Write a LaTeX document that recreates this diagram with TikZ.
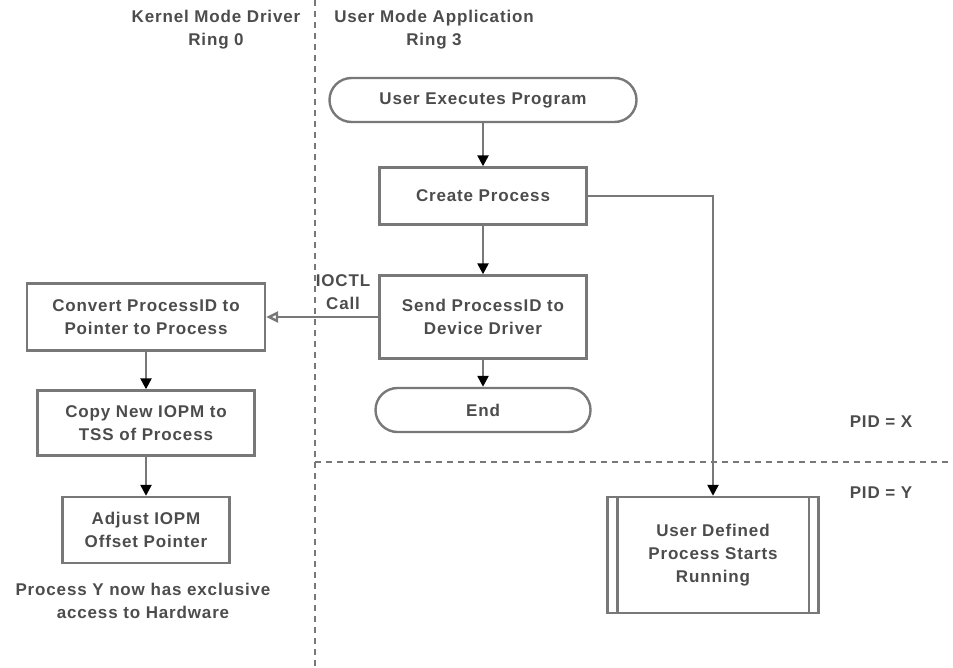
\documentclass[tikz,border=0pt]{standalone}
\usepackage{fontspec}
\newfontfamily\diagfont{Liberation Sans}[LetterSpace=5]
\usetikzlibrary{arrows.meta}

\definecolor{linegray}{gray}{0.47}
\definecolor{textgray}{gray}{0.3}

\tikzset{
  every node/.style={font=\diagfont\bfseries\fontsize{17}{23}\selectfont, text=textgray, align=center},
  procbox/.style={draw=linegray, line width=2.4pt, rectangle, inner sep=0pt},
  termbox/.style={draw=linegray, line width=2.4pt, rectangle, rounded corners=22pt, inner sep=0pt},
  flow/.style={draw=linegray, line width=2.4pt, -{Triangle[length=11pt, width=11pt, color=black]}},
  ioctl/.style={draw=linegray, line width=2.4pt, -{Triangle[open, length=12pt, width=11pt, fill=white]}},
  ringline/.style={draw=linegray, line width=2.4pt, dash pattern=on 6pt off 5pt}
}

\begin{document}
\begin{tikzpicture}[x=1pt, y=-1pt]
  \useasboundingbox (0,0) rectangle (953,668);

  % privilege boundaries
  \draw[ringline] (315,0) -- (315,668);
  \draw[ringline] (315,462) -- (953,462);

  \node (kernel) at (216,30) {Kernel Mode Driver\\Ring 0};
  \node (user) at (434,30) {User Mode Application\\Ring 3};
  \node (pidx) at (881,422) {PID = X};
  \node (pidy) at (881,493) {PID = Y};

  % user mode side
  \node[termbox, minimum width=307pt, minimum height=44pt] (start) at (483,100) {User Executes Program};
  \node[procbox, minimum width=207pt, minimum height=57pt] (create) at (483,196) {Create Process};
  \node[procbox, minimum width=207pt, minimum height=83pt] (send) at (483,317) {Send ProcessID to\\Device Driver};
  \node[termbox, minimum width=215pt, minimum height=44pt] (finish) at (483,410) {End};

  % kernel mode side
  \node[procbox, minimum width=238pt, minimum height=67pt] (convert) at (146,317) {Convert ProcessID to\\Pointer to Process};
  \node[procbox, minimum width=217pt, minimum height=65pt] (copy) at (146,423) {Copy New IOPM to\\TSS of Process};
  \node[procbox, minimum width=167pt, minimum height=66pt] (adjust) at (146,530) {Adjust IOPM\\Offset Pointer};
  \node (note) at (143,601) {Process Y now has exclusive\\access to Hardware};

  % new process
  \node[procbox, minimum width=211pt, minimum height=116pt] (running) at (713,555) {User Defined\\Process Starts\\Running};
  \draw[linegray, line width=2.4pt] ([xshift=11pt]running.north west) -- ([xshift=11pt]running.south west);
  \draw[linegray, line width=2.4pt] ([xshift=-11pt]running.north east) -- ([xshift=-11pt]running.south east);

  \draw[flow] (start) -- (create);
  \draw[flow] (create) -- (send);
  \draw[flow] (send) -- (finish);
  \draw[flow] (create.east) -| (running.north);
  \draw[ioctl] (send.west) -- (convert.east);
  \node (call) at (343,292) {IOCTL\\Call};
  \draw[flow] (convert) -- (copy);
  \draw[flow] (copy) -- (adjust);
\end{tikzpicture}
\end{document}
